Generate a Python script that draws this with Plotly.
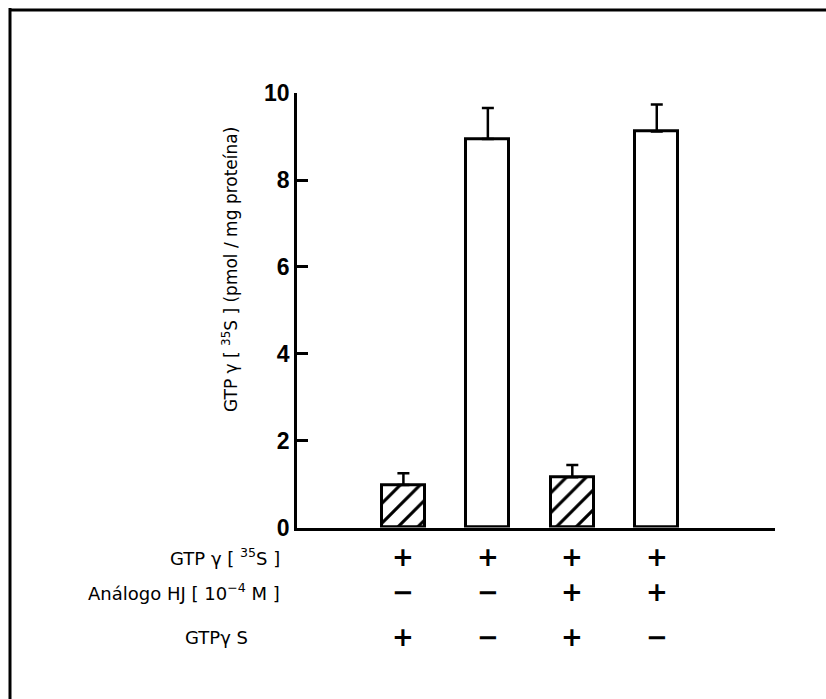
import plotly.graph_objects as go

# GTPγ[35S] binding (pmol / mg protein) for the four conditions
conditions = [0, 1, 2, 3]
binding = [0.98, 8.95, 1.16, 9.12]
binding_err = [0.27, 0.71, 0.28, 0.62]
hatch = ["/", "", "/", ""]

# condition table printed under the bars
row_labels = ["GTP γ [ <sup>35</sup>S ]", "Análogo HJ [ 10<sup>−4</sup> M ]", "GTPγ S"]
row_signs = [
    ["+", "+", "+", "+"],
    ["−", "−", "+", "+"],
    ["+", "−", "+", "−"],
]
y_ticks = [0, 2, 4, 6, 8, 10]

W, H = 826, 699
row_y = [557, 592, 637]

fig = go.Figure()
fig.add_trace(go.Bar(
    x=conditions,
    y=binding,
    width=0.51,
    marker=dict(
        color="white",
        line=dict(color="black", width=3),
        pattern=dict(shape=hatch, fgcolor="black", bgcolor="white",
                     fgopacity=1, size=14, solidity=0.22),
    ),
    error_y=dict(type="data", symmetric=False, array=binding_err,
                 arrayminus=[0] * len(binding_err),
                 color="black", thickness=2.5, width=6),
    showlegend=False,
))

annotations = []
# y-axis title
annotations.append(dict(
    x=217 / W, y=1 - 270 / H, xref="paper", yref="paper",
    text="GTP γ [ <sup>35</sup>S ] (pmol / mg proteína)",
    textangle=-90, showarrow=False,
    font=dict(family="DejaVu Sans", size=17, color="black"),
))
# table row labels
label_x = [282, 282, 250]
for lab, yy, xx in zip(row_labels, row_y, label_x):
    annotations.append(dict(
        x=xx / W, y=1 - yy / H, xref="paper", yref="paper",
        text=lab, showarrow=False, xanchor="right", yanchor="middle",
        font=dict(family="DejaVu Sans", size=18, color="black"),
    ))
# table signs, placed under each bar through the x scale
for signs, yy in zip(row_signs, row_y):
    for c, s in zip(conditions, signs):
        annotations.append(dict(
            x=c, y=1 - yy / H, xref="x", yref="paper",
            text=s, showarrow=False, xanchor="center", yanchor="middle",
            font=dict(family="DejaVu Sans", size=26, color="black",
                      weight="bold"),
        ))

# outer frame: top and left rules
shapes = [
    dict(type="line", xref="paper", yref="paper", x0=10 / W, x1=1,
         y0=1 - 10 / H, y1=1 - 10 / H, line=dict(color="black", width=3)),
    dict(type="line", xref="paper", yref="paper", x0=10 / W, x1=10 / W,
         y0=1 - 8 / H, y1=0, line=dict(color="black", width=3)),
]

fig.update_layout(
    width=W, height=H,
    margin=dict(l=0, r=0, t=0, b=0, autoexpand=False),
    paper_bgcolor="white", plot_bgcolor="white",
    bargap=0,
    annotations=annotations,
    shapes=shapes,
    xaxis=dict(
        domain=[297 / W, 775 / W],
        range=[-1.26, 4.40],
        automargin=False,
        showticklabels=False, ticks="", showgrid=False, zeroline=False,
        showline=True, linecolor="black", linewidth=2.5,
    ),
    yaxis=dict(
        domain=[1 - 527.5 / H, 1 - 93.3 / H],
        range=[0, 10],
        automargin=False,
        tickvals=y_ticks, ticktext=[str(t) for t in y_ticks],
        ticks="inside", ticklen=11, tickwidth=2.5, tickcolor="black",
        showgrid=False, zeroline=False,
        showline=True, linecolor="black", linewidth=2.5,
        tickfont=dict(family="Liberation Sans", size=23, color="black",
                      weight="bold"),
        ticklabelstandoff=0,
    ),
)

fig.write_html("out.html")
